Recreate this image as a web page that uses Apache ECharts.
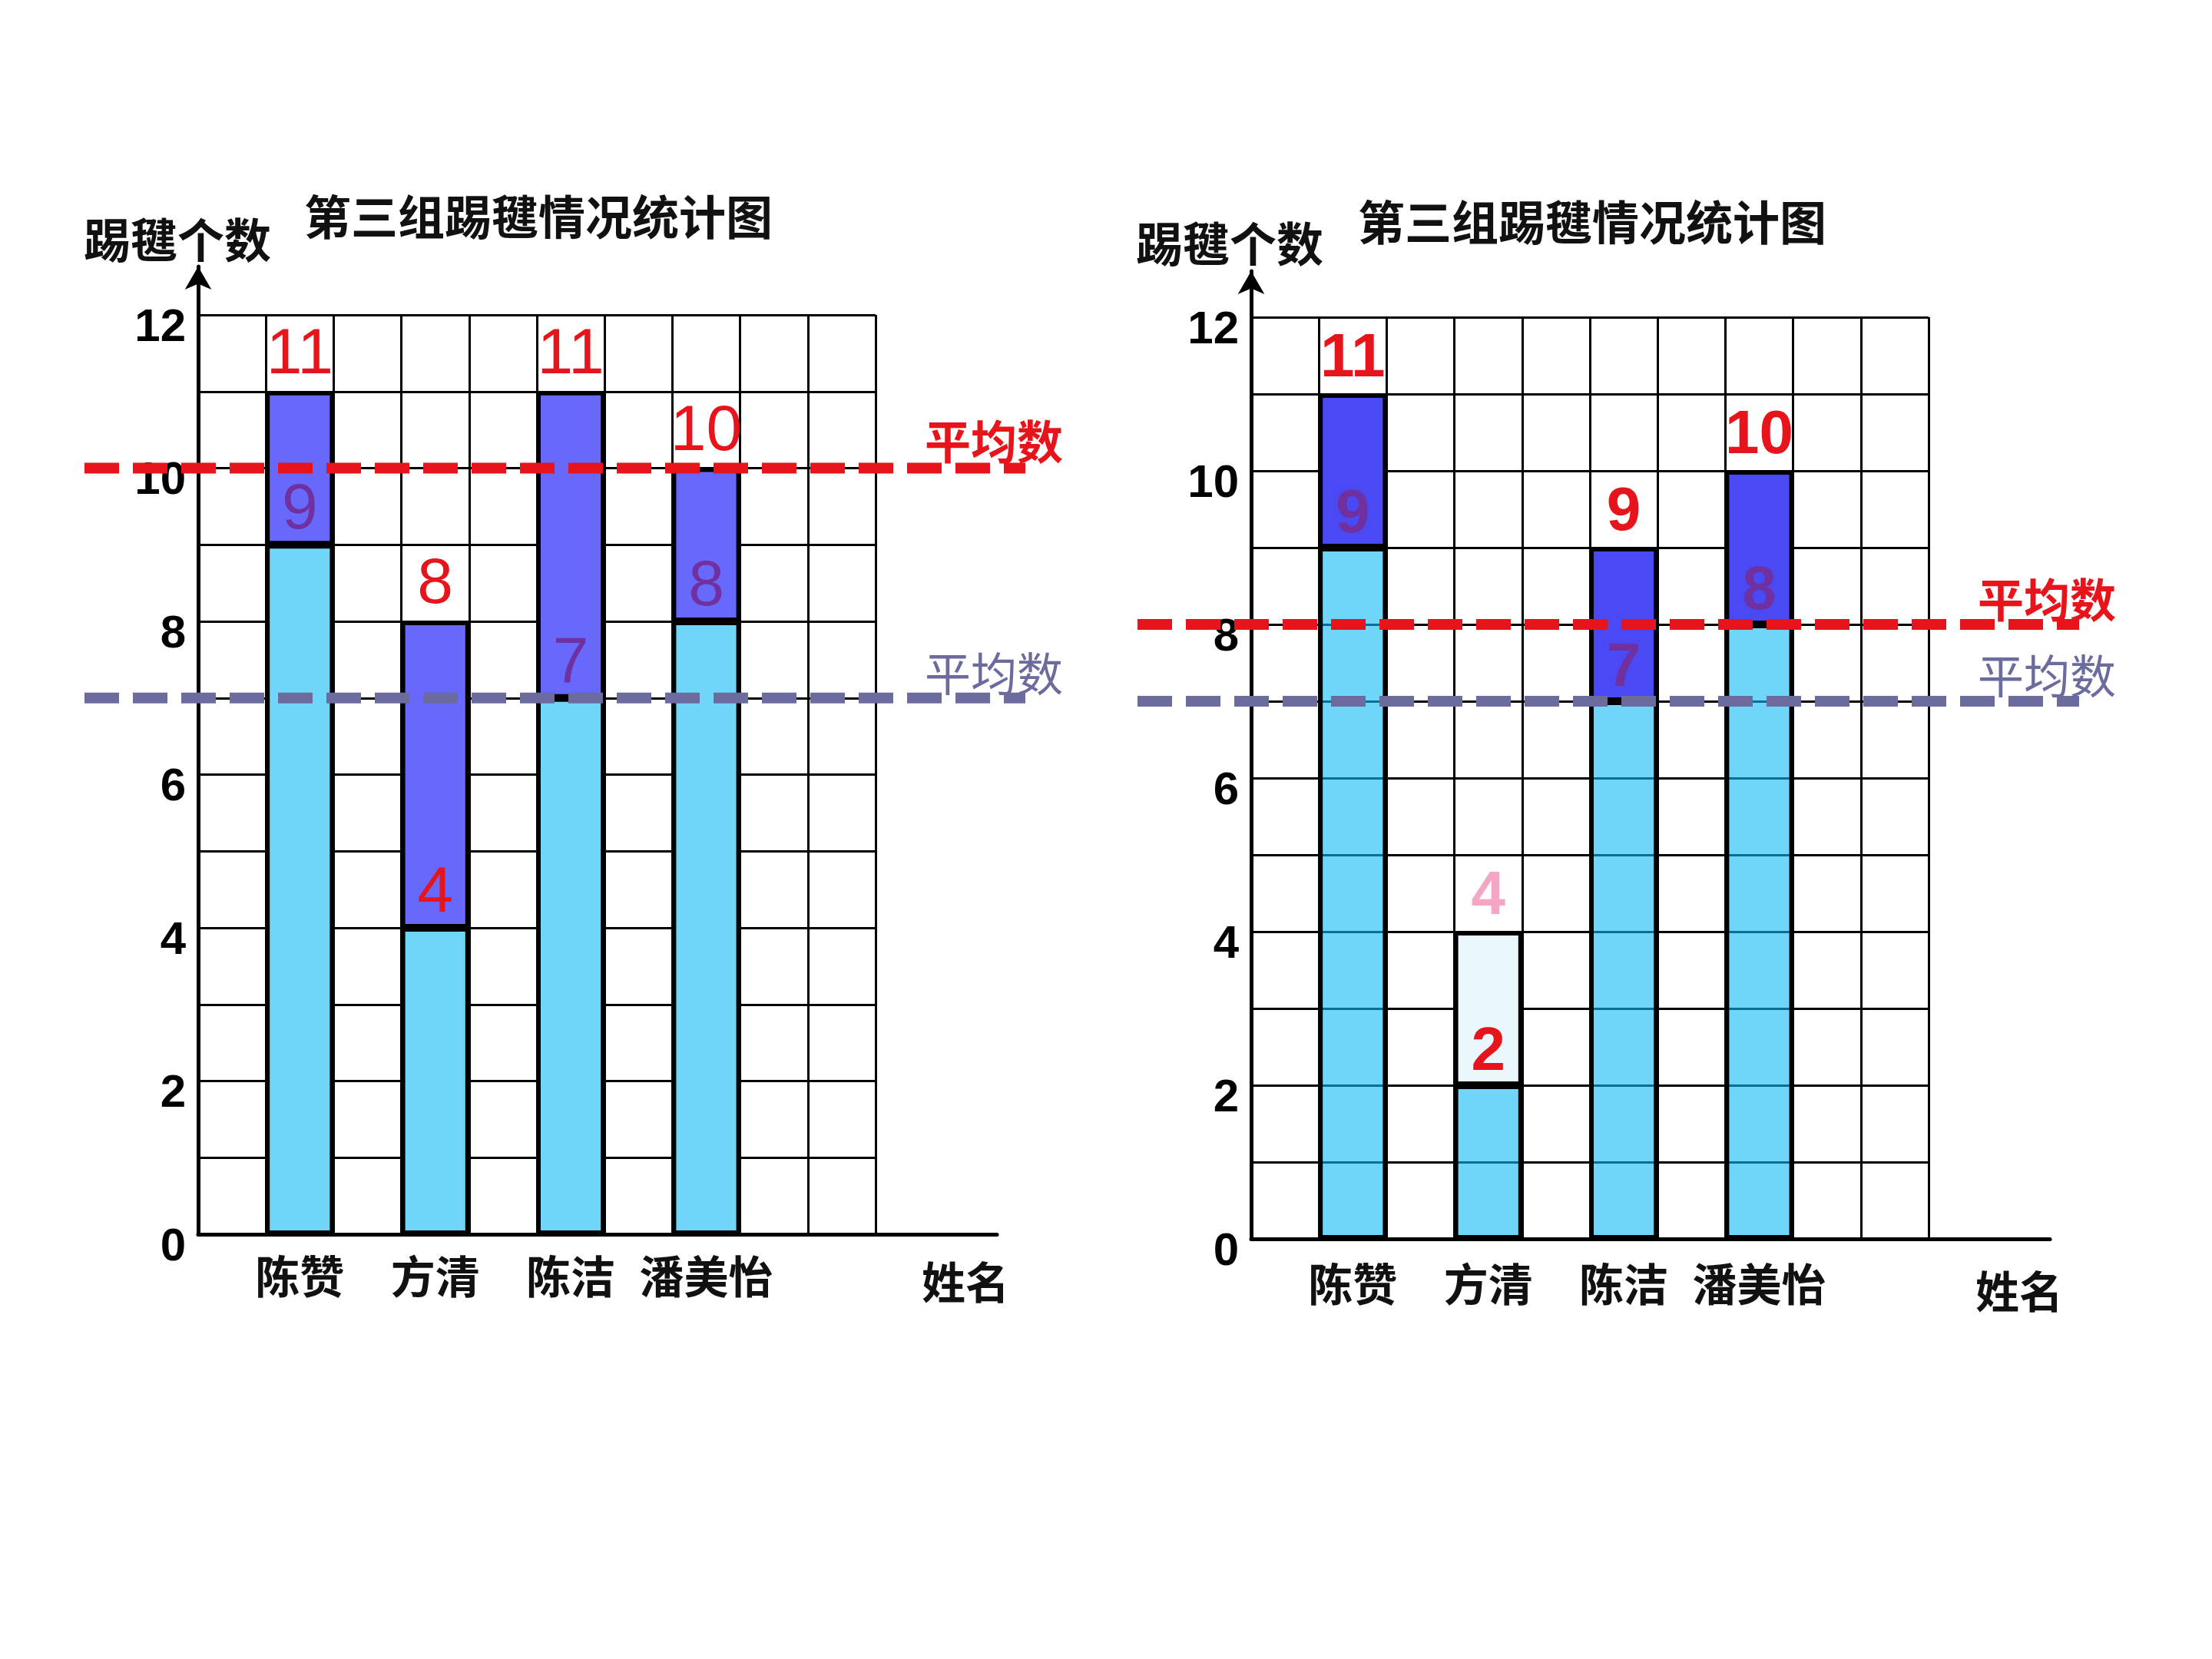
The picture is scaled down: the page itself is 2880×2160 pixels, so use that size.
<!DOCTYPE html>
<html><head><meta charset="utf-8">
<script src="https://cdn.jsdelivr.net/npm/echarts@6/dist/echarts.min.js"></script>
<style>html,body{margin:0;padding:0;background:#fff}#c{width:2880px;height:2160px}</style>
</head><body><div id="c"></div>
<script>
// ---------- data ----------
const names = ['陈赞', '方清', '陈洁', '潘美怡'];
const columnCount = 10;
const leftBase = [9, 4, 7, 8];
const leftTotal = [11, 8, 11, 10];
const leftAverages = [10, 7];      // red, grey-blue
const rightBase = [9, 2, 7, 8];
const rightTotal = [11, 4, 9, 10];
const rightAverages = [8, 7];      // red, grey-blue
const yMin = 0, yMax = 12, yStep = 1;
const yTickLabels = [0, 2, 4, 6, 8, 10, 12];
const chartTitle = '第三组踢毽情况统计图';
const yAxisName = '踢毽个数';
const xAxisName = '姓名';
const averageName = '平均数';

// ---------- helpers ----------
const cats = [];
names.forEach(n => { cats.push('', n); });
while (cats.length < columnCount) cats.push('');
function colIndex(i) { return 2 * i + 1; }

const RED = '#E8141C', PURPLE = '#7030A0', GREY = '#6B6B9E';
const NUM_FONT = 'Liberation Sans, Arial, sans-serif';
const CJK_FONT = 'Noto Sans CJK SC, sans-serif';

const panels = [
  {
    base: leftBase, total: leftTotal, avgs: leftAverages,
    main: {left: 258, top: 410, width: 882, height: 1197},
    ext: {left: 258, top: 347, width: 1040, height: 1260},
    avg: {left: 110, top: 410, width: 1225, height: 1197},
    light: '#70D6F9', dark: '#6868FC', bold: 'normal', numSize: 84,
    topLabelColors: [RED, RED, RED, RED],
    innerLabelColors: [PURPLE, RED, PURPLE, PURPLE],
    topColors: ['#6868FC', '#6868FC', '#6868FC', '#6868FC'],
    title: [701, 283], yName: [231, 313], xName: [1257, 1669],
    xLabelMargin: 26, avgOffsets: [[-41, -4], [-41, -1]]
  },
  {
    base: rightBase, total: rightTotal, avgs: rightAverages,
    main: {left: 1629, top: 413, width: 882, height: 1200},
    ext: {left: 1629, top: 353, width: 1040, height: 1260},
    avg: {left: 1481, top: 413, width: 1226, height: 1200},
    light: 'rgba(17,187,245,0.6)', dark: '#4A4AF4', bold: 'bold', numSize: 80,
    topLabelColors: [RED, '#F4A6C4', RED, RED],
    innerLabelColors: [PURPLE, RED, PURPLE, PURPLE],
    topColors: ['#4A4AF4', '#EAF7FD', '#4A4AF4', '#4A4AF4'],
    title: [2073, 290], yName: [1601, 318], xName: [2629, 1681],
    xLabelMargin: 30, avgOffsets: [[-42, -1], [-42, -2]]
  }
];

const grid = [], xAxis = [], yAxis = [], series = [], graphic = [];

panels.forEach((p, pi) => {
  const b = pi * 3;
  grid.push(Object.assign({containLabel: false}, p.main));
  grid.push(Object.assign({containLabel: false}, p.ext));
  grid.push(Object.assign({containLabel: false}, p.avg));

  // main grid axes (square grid + labels)
  xAxis.push({
    gridIndex: b, type: 'category', data: cats, boundaryGap: true,
    axisLine: {show: false}, axisTick: {show: false},
    splitLine: {show: true, interval: 0, lineStyle: {color: '#000', width: 3}},
    axisLabel: {interval: 0, margin: p.xLabelMargin, color: '#111', fontSize: 58,
      fontWeight: 'bold', fontFamily: CJK_FONT, verticalAlign: 'top'}
  });
  yAxis.push({
    gridIndex: b, type: 'value', min: yMin, max: yMax, interval: yStep,
    axisLine: {show: false}, axisTick: {show: false},
    splitLine: {show: true, lineStyle: {color: '#000', width: 3}},
    axisLabel: {margin: 16, color: '#000', fontSize: 60, fontWeight: 'bold', fontFamily: NUM_FONT,
      verticalAlign: 'top', lineHeight: 34,
      formatter: v => yTickLabels.includes(v) ? String(v) : ''}
  });
  // extended axes with arrow
  xAxis.push({
    gridIndex: b + 1, type: 'value', min: 0, max: 1,
    axisLine: {show: true, lineStyle: {color: '#000', width: 5}},
    axisTick: {show: false}, axisLabel: {show: false}, splitLine: {show: false}
  });
  yAxis.push({
    gridIndex: b + 1, type: 'value', min: 0, max: 1,
    axisLine: {show: true, symbol: ['none', 'arrow'], symbolSize: [26, 30],
      lineStyle: {color: '#000', width: 5}},
    axisTick: {show: false}, axisLabel: {show: false}, splitLine: {show: false}
  });
  // average lines axes
  xAxis.push({gridIndex: b + 2, type: 'value', min: 0, max: 1, show: false});
  yAxis.push({gridIndex: b + 2, type: 'value', min: yMin, max: yMax, show: false});

  const baseCols = [], topCols = [], totalCols = [];
  for (let c = 0; c < columnCount; c++) { baseCols.push('-'); topCols.push('-'); totalCols.push(null); }
  names.forEach((n, i) => {
    const c = colIndex(i);
    baseCols[c] = {value: p.base[i], label: {color: p.innerLabelColors[i]}};
    topCols[c] = {value: p.total[i] - p.base[i], itemStyle: {color: p.topColors[i]},
      label: {color: p.topLabelColors[i]}};
    totalCols[c] = p.total[i];
  });

  series.push({
    type: 'bar', xAxisIndex: b, yAxisIndex: b, stack: 's' + pi, barWidth: '100%',
    z: 2, silent: true,
    itemStyle: {color: p.light, borderColor: '#000', borderWidth: 5},
    label: {show: true, position: 'top', distance: 2, fontSize: p.numSize, fontWeight: p.bold,
      fontFamily: NUM_FONT},
    data: baseCols
  });
  series.push({
    type: 'bar', xAxisIndex: b, yAxisIndex: b, stack: 's' + pi, barWidth: '100%',
    z: 2, silent: true,
    itemStyle: {color: p.dark, borderColor: '#000', borderWidth: 5},
    label: {show: true, position: 'top', distance: 5, fontSize: p.numSize, fontWeight: p.bold,
      fontFamily: NUM_FONT, formatter: prm => String(totalCols[prm.dataIndex])},
    data: topCols
  });

  const avgColors = [RED, GREY];
  p.avgs.forEach((v, ai) => {
    series.push({
      type: 'line', xAxisIndex: b + 2, yAxisIndex: b + 2, z: 5, silent: true,
      symbol: 'circle', symbolSize: 1, showSymbol: true,
      itemStyle: {color: 'rgba(0,0,0,0)'},
      lineStyle: {color: avgColors[ai], width: 14, type: [45, 18], cap: 'butt'},
      data: [
        [0, v],
        {value: [1, v], label: {show: true, formatter: averageName, position: 'top', distance: 0,
          offset: p.avgOffsets[ai], color: avgColors[ai], fontSize: 60, fontFamily: CJK_FONT,
          fontWeight: ai === 0 ? 'bold' : 'normal'}}
      ]
    });
  });

  const txt = (pos, text, size) => ({
    type: 'text', x: pos[0], y: pos[1], silent: true,
    style: {text: text, fill: '#111', font: 'bold ' + size + 'px ' + CJK_FONT,
      textAlign: 'center', textVerticalAlign: 'middle'}
  });
  graphic.push(txt(p.title, chartTitle, 61));
  graphic.push(txt(p.yName, yAxisName, 61));
  graphic.push(txt(p.xName, xAxisName, 57));
});

const chart = echarts.init(document.getElementById('c'), null, {renderer: 'canvas'});
chart.setOption({
  animation: false,
  backgroundColor: '#fff',
  grid, xAxis, yAxis, series, graphic
});
</script>
</body></html>
